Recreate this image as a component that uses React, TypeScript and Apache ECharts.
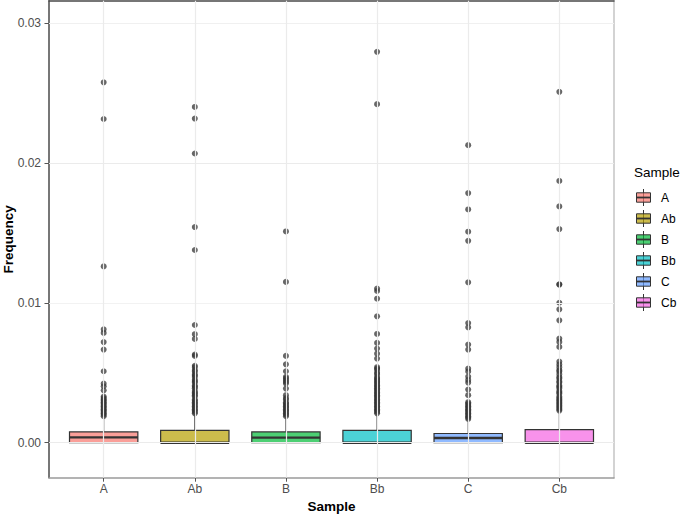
import React, { useEffect, useRef } from "react";
import * as echarts from "echarts";

const categories = ["A", "Ab", "B", "Bb", "C", "Cb"];
const fillColors = ["#F8766D", "#B79F00", "#00BA38", "#00BFC4", "#619CFF", "#F564E3"];

// box statistics
const whiskerLow = [0, 0, 0, 0, 0, 0];
const q1 = [0, 0, 0, 0, 0, 0];
const medians = [0.00039, 0, 0.00037, 0, 0.00034, 0];
const q3 = [0.00077, 0.00089, 0.00077, 0.00089, 0.00066, 0.00094];
const whiskerHigh = [0.00184, 0.00209, 0.00184, 0.00209, 0.00161, 0.00232];

// outliers
const outliersA = [0.02577, 0.02315, 0.01261, 0.00811, 0.00785, 0.0072, 0.00666, 0.00511, 0.00423, 0.00404, 0.00375,
  0.0033, 0.0032, 0.0031, 0.003, 0.0029, 0.0028, 0.0027, 0.0026, 0.0025, 0.0024, 0.0023, 0.0022, 0.0021, 0.002, 0.0019];
const outliersAb = [0.02401, 0.02318, 0.02068, 0.01542, 0.01378, 0.00842, 0.00776, 0.00742, 0.0063, 0.00621,
  0.0055, 0.0054, 0.0052, 0.0051, 0.0049, 0.0048, 0.0047, 0.0045, 0.0044, 0.0043, 0.0041, 0.004, 0.0039, 0.0037,
  0.0036, 0.0035, 0.0034, 0.0033, 0.0031, 0.003, 0.0029, 0.0028, 0.0027, 0.0026, 0.0025, 0.0024, 0.0023, 0.0022, 0.0021];
const outliersB = [0.01511, 0.0115, 0.00621, 0.00561, 0.00511, 0.00471, 0.0046, 0.00447, 0.00435, 0.00423, 0.00387, 0.0034,
  0.0032, 0.0031, 0.0029, 0.0028, 0.0027, 0.0026, 0.0025, 0.0024, 0.0023, 0.0022, 0.0021, 0.002, 0.0019];
const outliersBb = [0.02795, 0.02421, 0.01102, 0.01085, 0.0103, 0.00904, 0.00778, 0.00714, 0.00673, 0.00637, 0.00602,
  0.0054, 0.0053, 0.0052, 0.005, 0.0049, 0.0047, 0.0046, 0.0045, 0.0044, 0.0043, 0.0042, 0.0041, 0.004, 0.0039, 0.0038,
  0.0037, 0.0036, 0.0035, 0.0034, 0.0033, 0.0032, 0.0031, 0.003, 0.0029, 0.0028, 0.0027, 0.0026, 0.0025, 0.0024, 0.0023, 0.0022, 0.0021];
const outliersC = [0.02128, 0.01785, 0.01668, 0.01509, 0.01444, 0.01147, 0.00856, 0.00825, 0.00702, 0.00666,
  0.0053, 0.0051, 0.00473, 0.00449, 0.0043, 0.0038, 0.0034,
  0.0029, 0.0028, 0.0027, 0.0026, 0.0025, 0.0024, 0.0023, 0.0022, 0.0021, 0.002, 0.0019, 0.0018, 0.0017];
const outliersCb = [0.02509, 0.01872, 0.0169, 0.01528, 0.01133, 0.01131, 0.01001, 0.00954, 0.00875, 0.00745, 0.00721, 0.00685,
  0.0058, 0.0056, 0.0054, 0.0052, 0.0051, 0.0049, 0.0047, 0.0046, 0.0044, 0.0043, 0.0041, 0.004, 0.0039, 0.0037,
  0.0036, 0.0035, 0.0033, 0.0032, 0.0031, 0.003, 0.0029, 0.0028, 0.0027, 0.0026, 0.0025, 0.0024, 0.0023];
const outlierLists = [outliersA, outliersAb, outliersB, outliersBb, outliersC, outliersCb];

const yTicks = [0, 0.01, 0.02, 0.03];
const yMinorTicks = [0.005, 0.015, 0.025];
const yLimits = [-0.0025, 0.0316];
const xLimits = [-0.6, 5.6];

const FONT = "'Liberation Sans', Arial, Helvetica, sans-serif";

function withAlpha(hex: string, a: number) {
  const r = parseInt(hex.slice(1, 3), 16);
  const g = parseInt(hex.slice(3, 5), 16);
  const b = parseInt(hex.slice(5, 7), 16);
  return `rgba(${r},${g},${b},${a})`;
}

export default function App() {
  const ref = useRef<HTMLDivElement>(null);

  useEffect(() => {
    if (!ref.current) return;
    const chart = echarts.init(ref.current, undefined, { renderer: "svg" });
    const idx = categories.map((_, i) => i);

    const boxData = categories.map((_, i) => [i, whiskerLow[i], q1[i], medians[i], q3[i], whiskerHigh[i]]);
    const outlierData: number[][] = [];
    outlierLists.forEach((list, i) => list.forEach((v) => outlierData.push([i, v])));

    const gridLines: any[] = [];
    yTicks.forEach((v) => gridLines.push({ yAxis: v, lineStyle: { color: "#EBEBEB", width: 1.2, type: "solid" } }));
    yMinorTicks.forEach((v) => gridLines.push({ yAxis: v, lineStyle: { color: "#F2F2F2", width: 0.7, type: "solid" } }));
    idx.forEach((i) => gridLines.push({ xAxis: i, lineStyle: { color: "#EBEBEB", width: 1.2, type: "solid" } }));

    const legendItems: any[] = [
      {
        type: "text",
        left: 634,
        top: 165,
        style: { text: "Sample", fontSize: 13.5, fontFamily: FONT, fill: "#000" },
      },
    ];
    categories.forEach((c, i) => {
      const cy = 197.5 + i * 21;
      legendItems.push({
        type: "group",
        children: [
          { type: "line", shape: { x1: 643.5, y1: cy - 8.5, x2: 643.5, y2: cy + 8.5 }, style: { stroke: "#333", lineWidth: 1 } },
          {
            type: "rect",
            shape: { x: 636.5, y: cy - 4.7, width: 14, height: 9.4 },
            style: { fill: withAlpha(fillColors[i], 0.7), stroke: "#333", lineWidth: 1 },
          },
          { type: "line", shape: { x1: 636.5, y1: cy, x2: 650.5, y2: cy }, style: { stroke: "#333", lineWidth: 1.8 } },
          {
            type: "text",
            x: 661,
            y: cy,
            style: { text: c, fontSize: 12, fontFamily: FONT, fill: "#000", textVerticalAlign: "middle", verticalAlign: "middle" },
          },
        ],
      });
    });

    chart.setOption({
      animation: false,
      backgroundColor: "#fff",
      textStyle: { fontFamily: FONT },
      grid: { left: 49, right: 71, top: 0.8, bottom: 37.3, containLabel: false, outerBoundsMode: "none" },
      xAxis: [
        {
          type: "value",
          min: xLimits[0],
          max: xLimits[1],
          axisLine: { show: true, onZero: false, lineStyle: { color: "#9A9A9A", width: 1.5 } },
          axisTick: { show: true, customValues: idx, length: 4, lineStyle: { color: "#555", width: 1 } },
          axisLabel: {
            show: true,
            customValues: idx,
            formatter: (v: number) => categories[Math.round(v)],
            color: "#4D4D4D",
            fontSize: 12,
            margin: 5,
            fontFamily: FONT,
          },
          splitLine: { show: false },
          name: "Sample",
          nameLocation: "middle",
          nameGap: 21,
          nameTextStyle: { fontWeight: "bold", fontSize: 13.5, color: "#000", fontFamily: FONT },
        },
        {
          type: "value",
          position: "top",
          min: xLimits[0],
          max: xLimits[1],
          axisLine: { show: true, onZero: false, lineStyle: { color: "#4A4A4A", width: 1.5 } },
          axisTick: { show: false },
          axisLabel: { show: false },
          splitLine: { show: false },
        },
      ],
      yAxis: [
        {
          type: "value",
          min: yLimits[0],
          max: yLimits[1],
          axisLine: { show: true, onZero: false, lineStyle: { color: "#4A4A4A", width: 1.5 } },
          axisTick: { show: true, customValues: yTicks, length: 4.5, lineStyle: { color: "#555", width: 1 } },
          axisLabel: {
            show: true,
            customValues: yTicks,
            formatter: (v: number) => v.toFixed(2),
            color: "#4D4D4D",
            fontSize: 12,
            margin: 8,
            fontFamily: FONT,
          },
          splitLine: { show: false },
          name: "Frequency",
          nameLocation: "middle",
          nameGap: 34,
          nameRotate: 90,
          nameMoveOverlap: false,
          nameTextStyle: { fontWeight: "bold", fontSize: 13.5, color: "#000", fontFamily: FONT },
        },
        {
          type: "value",
          position: "right",
          min: yLimits[0],
          max: yLimits[1],
          axisLine: { show: true, onZero: false, lineStyle: { color: "#C4C4C4", width: 1.5 } },
          axisTick: { show: false },
          axisLabel: { show: false },
          splitLine: { show: false },
        },
      ],
      series: [
        {
          type: "scatter",
          data: [],
          z: 0,
          silent: true,
          markLine: {
            silent: true,
            symbol: ["none", "none"],
            label: { show: false },
            animation: false,
            data: gridLines,
          },
        },
        {
          type: "custom",
          z: 2,
          silent: true,
          data: boxData,
          encode: { x: 0, y: [1, 2, 3, 4, 5] },
          renderItem: (params: any, api: any) => {
            const i = api.value(0);
            const lo = api.coord([i, api.value(1)]);
            const b1 = api.coord([i, api.value(2)]);
            const md = api.coord([i, api.value(3)]);
            const b3 = api.coord([i, api.value(4)]);
            const hi = api.coord([i, api.value(5)]);
            const w = api.size([1, 0])[0] * 0.75;
            const x = lo[0];
            return {
              type: "group",
              children: [
                { type: "line", shape: { x1: x, y1: hi[1], x2: x, y2: b3[1] }, style: { stroke: "#333", lineWidth: 1.1 } },
                { type: "line", shape: { x1: x, y1: b1[1], x2: x, y2: lo[1] }, style: { stroke: "#333", lineWidth: 1.1 } },
                {
                  type: "rect",
                  shape: { x: x - w / 2, y: b3[1], width: w, height: b1[1] - b3[1] },
                  style: { fill: withAlpha(fillColors[i], 0.7), stroke: "#333", lineWidth: 1.2 },
                },
                { type: "line", shape: { x1: x - w / 2, y1: md[1], x2: x + w / 2, y2: md[1] }, style: { stroke: "#333", lineWidth: 2.3 } },
              ],
            };
          },
        },
        {
          type: "scatter",
          z: 3,
          silent: true,
          data: outlierData,
          symbol: "circle",
          symbolSize: 6,
          itemStyle: { color: "#333333", opacity: 0.75 },
        },
      ],
      graphic: legendItems,
    });

    return () => chart.dispose();
  }, []);

  return <div ref={ref} style={{ position: "fixed", left: 0, top: 0, width: 685, height: 515 }} />;
}
